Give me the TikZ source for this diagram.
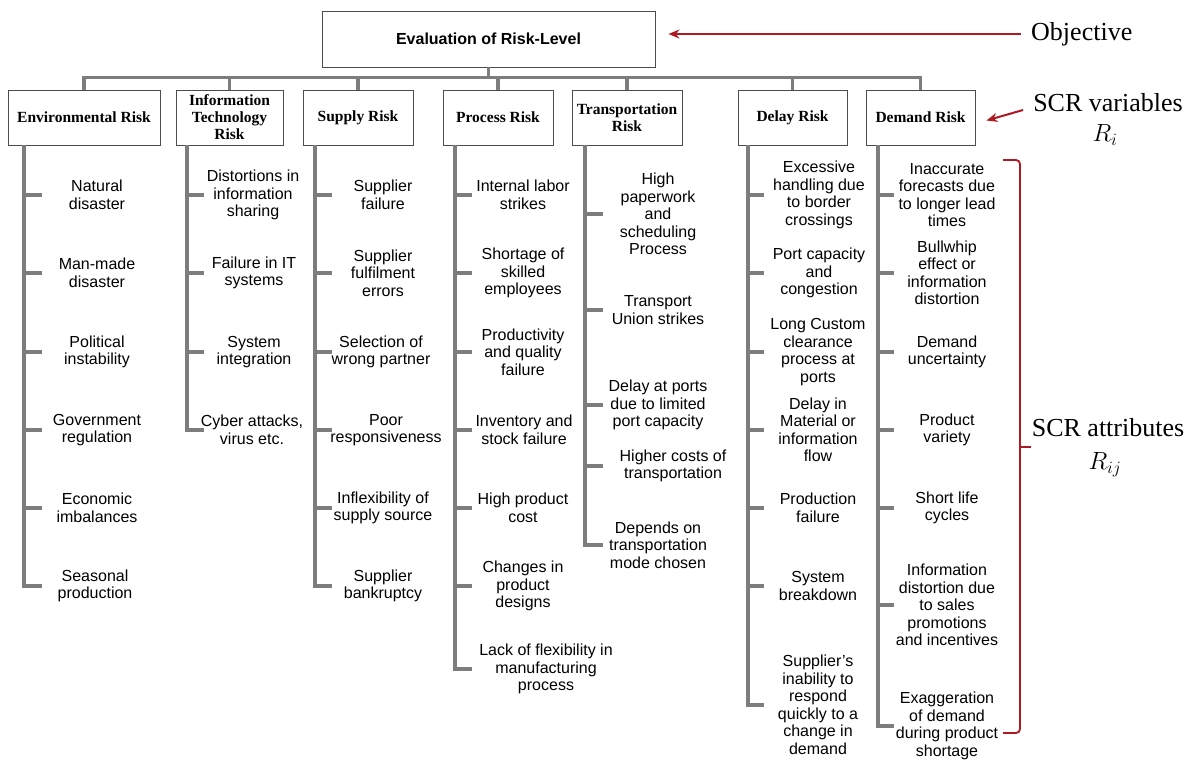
\documentclass[tikz,border=0pt]{standalone}
\usepackage{fontspec}
\setmainfont{Liberation Serif}
\setsansfont{Liberation Sans}
\usetikzlibrary{arrows.meta}

\definecolor{branchgray}{RGB}{125,125,125}
\definecolor{scrred}{RGB}{175,25,35}

\begin{document}
\begin{tikzpicture}[x=1pt, y=-1pt, >=Stealth, line join=miter,
    riskbox/.style={draw=black!70, fill=white, line width=0.9pt, minimum height=55pt,
        inner sep=1pt, align=center, font=\bfseries\fontsize{15.5}{17}\selectfont},
    item/.style={align=center, inner sep=0pt, font=\sffamily\fontsize{16}{17.5}\selectfont},
    branch/.style={draw=branchgray, line width=3.5pt},
    note/.style={font=\fontsize{26}{30}\selectfont, inner sep=2pt},
    redarrow/.style={draw=scrred, line width=2pt, -{Stealth[length=11pt, width=9pt]}}]

    % ── Canvas: pixel grid of the source picture (y runs down) ──────────────
    \useasboundingbox (0,0) rectangle (1196,760);

    % ── Objective box ─────────────────────────────────────────────────────────
    \node[riskbox, minimum width=333pt, minimum height=56pt,
        font=\sffamily\bfseries\fontsize{16}{18}\selectfont] (top) at (488.5,39)
        {Evaluation of Risk-Level};

    % ── SCR variables ─────────────────────────────────────────────────────────
    \node[riskbox, minimum width=152pt] (env)   at (84,117.5)  {Environmental Risk};
    \node[riskbox, minimum width=107pt] (it)    at (229.5,117.5) {Information\\Technology\\Risk};
    \node[riskbox, minimum width=110pt] (sup)   at (358,117.5) {Supply Risk};
    \node[riskbox, minimum width=110pt] (proc)  at (498,117.5) {Process Risk};
    \node[riskbox, minimum width=110pt] (trans) at (627,117.5) {Transportation\\Risk};
    \node[riskbox, minimum width=109pt] (delay) at (792.5,117.5) {Delay Risk};
    \node[riskbox, minimum width=109pt] (dem)   at (920.5,117.5) {Demand Risk};

    % bus between objective and variables
    \draw[branch] (top.south) -- ++(0,11);
    \draw[branch] (env.north) -- ++(0,-12) -| (dem.north);
    \foreach \n in {it,sup,proc,trans,delay}
        \draw[branch] (\n.north) -- ++(0,-12);

    % ── Environmental risk attributes ─────────────────────────────────────────
    \node[item] (env1) at (97,195) {Natural\\disaster};
    \node[item] (env2) at (97,273) {Man-made\\disaster};
    \node[item] (env3) at (97,352) {Political\\instability};
    \node[item] (env4) at (97,430) {Government\\regulation};
    \node[item] (env5) at (97,508) {Economic\\imbalances};
    \node[item] (env6) at (95,586) {Seasonal\\production};
    \coordinate (envS) at (24,145);
    \draw[branch] (envS) -- (envS |- env6) -- ++(18,0);
    \foreach \i in {1,...,5} \draw[branch] (envS |- env\i) -- ++(18,0);

    % ── Information technology risk attributes ────────────────────────────────
    \node[item] (it1) at (253,195) {Distortions in\\information\\sharing};
    \node[item] (it2) at (254,273) {Failure in IT\\systems};
    \node[item] (it3) at (254,352) {System\\integration};
    \node[item] (it4) at (252,430) {Cyber attacks,\\virus etc.};
    \coordinate (itS) at (187,145);
    \draw[branch] (itS) -- (itS |- it4) -- ++(17,0);
    \foreach \i in {1,...,3} \draw[branch] (itS |- it\i) -- ++(17,0);

    % ── Supply risk attributes ────────────────────────────────────────────────
    \node[item] (sup1) at (383,195) {Supplier\\failure};
    \node[item] (sup2) at (383,273) {Supplier\\fulfilment\\errors};
    \node[item] (sup3) at (381,352) {Selection of\\wrong partner};
    \node[item] (sup4) at (386,430) {Poor\\responsiveness};
    \node[item] (sup5) at (383,508) {Inflexibility of\\supply source};
    \node[item] (sup6) at (383,586) {Supplier\\bankruptcy};
    \coordinate (supS) at (315,145);
    \draw[branch] (supS) -- (supS |- sup6) -- ++(17,0);
    \foreach \i in {1,...,5} \draw[branch] (supS |- sup\i) -- ++(17,0);

    % ── Process risk attributes ───────────────────────────────────────────────
    \node[item] (proc1) at (523,195) {Internal labor\\strikes};
    \node[item] (proc2) at (523,273) {Shortage of\\skilled\\employees};
    \node[item] (proc3) at (523,352) {Productivity\\and quality\\failure};
    \node[item] (proc4) at (524,430) {Inventory and\\stock failure};
    \node[item] (proc5) at (523,508) {High product\\cost};
    \node[item] (proc6) at (523,586) {Changes in\\product\\designs};
    \node[item] (proc7) at (546,669) {Lack of flexibility in\\manufacturing\\process};
    \coordinate (procS) at (455,145);
    \draw[branch] (procS) -- (procS |- proc7) -- ++(17,0);
    \foreach \i in {1,...,6} \draw[branch] (procS |- proc\i) -- ++(17,0);

    % ── Transportation risk attributes ────────────────────────────────────────
    \node[item] (trans1) at (658,214) {High\\paperwork\\and\\scheduling\\Process};
    \node[item] (trans2) at (658,310) {Transport\\Union strikes};
    \node[item] (trans3) at (658,405) {Delay at ports\\due to limited\\port capacity};
    \node[item] (trans4) at (673,466) {Higher costs of\\transportation};
    \node[item] (trans5) at (658,545) {Depends on\\transportation\\mode chosen};
    \coordinate (transS) at (585,145);
    \draw[branch] (transS) -- (transS |- trans5) -- ++(18,0);
    \foreach \i in {1,...,4} \draw[branch] (transS |- trans\i) -- ++(18,0);

    % ── Delay risk attributes ─────────────────────────────────────────────────
    \node[item] (delay1) at (819,195) {Excessive\\handling due\\to border\\crossings};
    \node[item] (delay2) at (819,273) {Port capacity\\and\\congestion};
    \node[item] (delay3) at (818,352) {Long Custom\\clearance\\process at\\ports};
    \node[item] (delay4) at (818,430) {Delay in\\Material or\\information\\flow};
    \node[item] (delay5) at (818,508) {Production\\failure};
    \node[item] (delay6) at (818,586) {System\\breakdown};
    \node[item] (delay7) at (818,705) {Supplier’s\\inability to\\respond\\quickly to a\\change in\\demand};
    \coordinate (delayS) at (748,145);
    \draw[branch] (delayS) -- (delayS |- delay7) -- ++(16,0);
    \foreach \i in {1,...,6} \draw[branch] (delayS |- delay\i) -- ++(16,0);

    % ── Demand risk attributes ────────────────────────────────────────────────
    \node[item] (dem1) at (947,195) {Inaccurate\\forecasts due\\to longer lead\\times};
    \node[item] (dem2) at (947,273) {Bullwhip\\effect or\\information\\distortion};
    \node[item] (dem3) at (947,352) {Demand\\uncertainty};
    \node[item] (dem4) at (947,430) {Product\\variety};
    \node[item] (dem5) at (947,508) {Short life\\cycles};
    \node[item] (dem6) at (947,605) {Information\\distortion due\\to sales\\promotions\\and incentives};
    \node[item] (dem7) at (947,726) {Exaggeration\\of demand\\during product\\shortage};
    \coordinate (demS) at (878,145);
    \draw[branch] (demS) -- (demS |- dem7) -- ++(16,0);
    \foreach \i in {1,...,6} \draw[branch] (demS |- dem\i) -- ++(16,0);

    % ── Legend on the right (red) ─────────────────────────────────────────────
    \node[note, anchor=west] (obj) at (1029,34) {Objective};
    \draw[redarrow] ([xshift=-8pt]obj.west) -- ([xshift=13pt]obj.west -| top.east);

    \node[note] (var)  at (1108,103) {SCR variables};
    \node[note] (vari) at (1105,135) {$R_i$};
    \draw[redarrow] ([shift={(-8,7)}]var.west) -- ([shift={(11,3)}]dem.east);

    % bracket round the attributes, tip towards its label
    \coordinate (braceT) at (1003,160);
    \coordinate (braceB) at (1003,733);
    \coordinate (braceX) at (1020,447);
    \coordinate (braceM) at (1031,447);
    \draw[scrred, line width=1.8pt, rounded corners=4pt]
        (braceT) -| (braceX) |- (braceB);
    \draw[scrred, line width=1.8pt] (braceX) -- (braceM);
    \node[note] (attr)   at (1108,428) {SCR attributes};
    \node[note] (attrij) at (1105,465) {$R_{ij}$};

\end{tikzpicture}
\end{document}
